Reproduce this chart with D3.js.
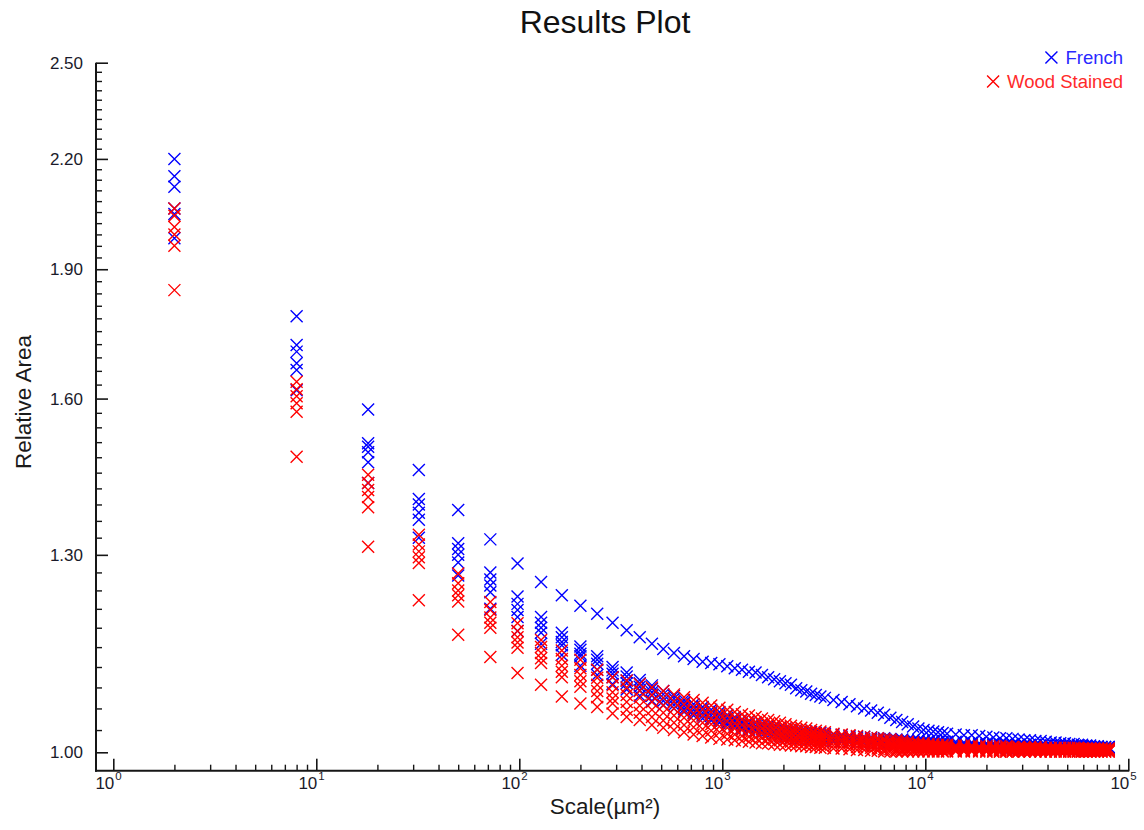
<!DOCTYPE html>
<html><head><meta charset="utf-8">
<script src="https://cdn.jsdelivr.net/npm/d3@7"></script>
<style>
body{margin:0;background:#fff}
svg{display:block}
text{font-family:"Liberation Sans",Arial,Helvetica,sans-serif}
</style>
</head><body>
<svg id="chart" width="1144" height="830"></svg>
<script>
// ---------- DATA ----------
const scales = [2,8,18,32,50,72,98,128,162,200,242,288,
338,392,450,512,578,648,722,800,882,968,1058,1152,1250,1352,1458,1568,1682,1800,1922,2048,2178,2312,2450,2592,2738,2888,3042,3200,
3528,3872,4232,4608,5000,5408,5832,6272,6728,7200,7688,8192,8712,9248,9800,10368,10952,11552,12168,12800,
14112,15488,16928,18432,20000,21632,23328,25088,26912,28800,30752,32768,34848,36992,39200,41472,43808,46208,48672,51200,53792,56448,59168,61952,64800,67712,70688,73728,76832,80000];

const frenchA = [2.200,1.785,1.577,1.455,1.380,1.327,1.285,1.254,1.232,1.215,1.202,1.188,
1.176,1.165,1.155,1.147,1.141,1.136,1.132,1.128,1.126,1.124,1.121,1.118,1.116,1.113,1.112,1.108,1.105,1.102,1.099,1.096,1.094,1.089,1.086,1.084,1.081,1.079,1.077,1.075,
1.072,1.069,1.066,1.063,1.060,1.057,1.054,1.051,1.047,1.044,1.041,1.038,1.035,1.032,1.030,1.029,1.028,1.027,1.026,1.025,
1.024,1.023,1.023,1.022,1.021,1.020,1.019,1.019,1.018,1.017,1.016,1.016,1.015,1.015,1.014,1.013,1.013,1.012,1.012,1.011,1.011,1.010,1.010,1.009,1.009,1.008,1.008,1.007,1.007,1.007];
const frenchB = [2.150,1.718,1.508,1.400,1.320,1.270,1.230,1.197,1.172,1.151,1.136,1.120,
1.112,1.101,1.093,1.085,1.078,1.072,1.066,1.062,1.058,1.055,1.051,1.048,1.045,1.042,1.040,1.038,1.036,1.035,1.033,1.032,1.031,1.030,1.029,1.028,1.027,1.026,1.026,1.025,
1.024,1.023,1.022,1.021,1.021,1.020,1.019,1.019,1.018,1.017,1.017,1.016,1.016,1.016,1.015,1.015,1.015,1.014,1.014,1.014,
1.014,1.013,1.013,1.012,1.012,1.012,1.011,1.011,1.011,1.010,1.010,1.010,1.010,1.009,1.009,1.009,1.009,1.009,1.008,1.008,1.008,1.008,1.008,1.008,1.007,1.007,1.007,1.007,1.007,1.007];
const frenchC = [2.120,1.703,1.501,1.390,1.310,1.258,1.218,1.188,1.165,1.146,1.131,1.115,
1.106,1.096,1.088,1.080,1.074,1.068,1.062,1.058,1.054,1.050,1.047,1.044,1.041,1.038,1.036,1.035,1.033,1.032,1.030,1.029,1.028,1.027,1.026,1.025,1.024,1.023,1.023,1.022,
1.021,1.020,1.020,1.019,1.018,1.018,1.017,1.017,1.016,1.015,1.015,1.014,1.014,1.014,1.013,1.013,1.013,1.013,1.012,1.012,
1.012,1.011,1.011,1.011,1.010,1.010,1.010,1.010,1.009,1.009,1.009,1.009,1.008,1.008,1.008,1.008,1.008,1.007,1.007,1.007,1.007,1.007,1.007,1.006,1.006,1.006,1.006,1.006,1.006,1.006];
const frenchD = [2.060,1.677,1.490,1.375,1.300,1.248,1.208,1.180,1.158,1.140,1.125,1.110,
1.100,1.091,1.083,1.075,1.069,1.063,1.058,1.054,1.050,1.046,1.043,1.041,1.038,1.035,1.033,1.031,1.030,1.029,1.027,1.026,1.025,1.024,1.023,1.022,1.022,1.021,1.020,1.020,
1.019,1.018,1.018,1.017,1.016,1.016,1.015,1.015,1.014,1.013,1.013,1.013,1.012,1.012,1.012,1.012,1.011,1.011,1.011,1.011,
1.010,1.010,1.010,1.010,1.009,1.009,1.009,1.008,1.008,1.008,1.008,1.008,1.007,1.007,1.007,1.007,1.007,1.006,1.006,1.006,1.006,1.006,1.006,1.005,1.005,1.005,1.005,1.005,1.005,1.005];
const frenchE = [2.045,1.662,1.470,1.362,1.287,1.237,1.197,1.172,1.153,1.136,1.116,1.105,
1.096,1.086,1.078,1.071,1.065,1.059,1.054,1.050,1.046,1.043,1.040,1.037,1.035,1.032,1.030,1.028,1.027,1.026,1.024,1.023,1.022,1.021,1.021,1.020,1.019,1.019,1.018,1.018,
1.017,1.016,1.016,1.015,1.015,1.014,1.014,1.013,1.013,1.012,1.012,1.012,1.011,1.011,1.011,1.010,1.010,1.010,1.010,1.009,
1.009,1.009,1.009,1.008,1.008,1.008,1.008,1.007,1.007,1.007,1.007,1.007,1.006,1.006,1.006,1.006,1.006,1.005,1.005,1.005,1.005,1.005,1.005,1.004,1.004,1.004,1.004,1.004,1.004,1.004];
const frenchF = [1.980,1.618,1.430,1.330,1.265,1.210,1.175,1.155,1.138,1.122,1.108,1.095,
1.087,1.078,1.071,1.065,1.060,1.055,1.050,1.046,1.043,1.040,1.037,1.035,1.032,1.030,1.028,1.026,1.025,1.024,1.022,1.021,1.020,1.019,1.019,1.018,1.017,1.017,1.016,1.016,
1.015,1.014,1.014,1.013,1.013,1.012,1.012,1.011,1.011,1.010,1.010,1.010,1.009,1.009,1.009,1.009,1.009,1.008,1.008,1.008,
1.008,1.008,1.007,1.007,1.007,1.007,1.007,1.006,1.006,1.006,1.006,1.006,1.005,1.005,1.005,1.005,1.005,1.005,1.004,1.004,1.004,1.004,1.004,1.004,1.004,1.004,1.003,1.003,1.003,1.003];

const woodA = [2.060,1.636,1.446,1.335,1.268,1.221,1.187,1.161,1.145,1.131,1.116,1.105,
1.100,1.095,1.090,1.085,1.080,1.076,1.072,1.068,1.064,1.061,1.058,1.055,1.052,1.050,1.048,1.046,1.044,1.042,1.040,1.038,1.036,1.035,1.033,1.032,1.030,1.029,1.028,1.027,
1.025,1.024,1.023,1.022,1.021,1.020,1.019,1.018,1.017,1.016,1.015,1.014,1.013,1.012,1.012,1.011,1.011,1.010,1.010,1.010,
1.009,1.009,1.009,1.008,1.008,1.008,1.008,1.008,1.007,1.007,1.007,1.007,1.007,1.007,1.006,1.006,1.006,1.006,1.006,1.006,1.006,1.006,1.005,1.005,1.005,1.005,1.005,1.005,1.005,1.005];
const woodB = [2.040,1.620,1.430,1.318,1.252,1.208,1.175,1.150,1.132,1.118,1.104,1.093,
1.090,1.085,1.079,1.075,1.070,1.066,1.062,1.059,1.055,1.052,1.050,1.047,1.045,1.043,1.041,1.039,1.038,1.036,1.034,1.032,1.031,1.030,1.028,1.027,1.025,1.025,1.024,1.023,
1.021,1.020,1.019,1.018,1.017,1.016,1.016,1.015,1.014,1.013,1.012,1.011,1.010,1.010,1.010,1.009,1.009,1.008,1.008,1.008,
1.007,1.007,1.007,1.007,1.006,1.006,1.006,1.006,1.006,1.006,1.005,1.005,1.005,1.005,1.005,1.005,1.005,1.005,1.004,1.004,1.004,1.004,1.004,1.004,1.004,1.004,1.004,1.004,1.004,1.004];
const woodC = [2.010,1.605,1.417,1.306,1.240,1.196,1.165,1.141,1.122,1.108,1.094,1.083,
1.079,1.075,1.069,1.064,1.060,1.056,1.053,1.050,1.046,1.044,1.042,1.039,1.037,1.036,1.034,1.032,1.031,1.030,1.028,1.027,1.025,1.025,1.023,1.022,1.021,1.020,1.019,1.019,
1.017,1.016,1.015,1.014,1.014,1.013,1.012,1.011,1.011,1.010,1.009,1.008,1.008,1.007,1.007,1.007,1.007,1.006,1.006,1.006,
1.005,1.005,1.005,1.005,1.005,1.005,1.004,1.004,1.004,1.004,1.004,1.004,1.004,1.004,1.003,1.003,1.003,1.003,1.003,1.003,1.003,1.003,1.003,1.003,1.003,1.003,1.003,1.003,1.003,1.003];
const woodD = [1.990,1.590,1.404,1.296,1.232,1.188,1.157,1.133,1.113,1.099,1.085,1.074,
1.069,1.064,1.058,1.054,1.050,1.047,1.043,1.040,1.038,1.035,1.033,1.032,1.030,1.028,1.027,1.026,1.025,1.023,1.022,1.021,1.020,1.019,1.018,1.018,1.016,1.016,1.015,1.014,
1.013,1.013,1.012,1.011,1.010,1.009,1.009,1.008,1.007,1.006,1.006,1.006,1.006,1.005,1.005,1.005,1.005,1.004,1.004,1.004,
1.003,1.003,1.003,1.003,1.003,1.003,1.003,1.003,1.003,1.003,1.002,1.002,1.002,1.002,1.002,1.002,1.002,1.002,1.002,1.002,1.002,1.002,1.002,1.002,1.002,1.002,1.002,1.002,1.002,1.002];
const woodE = [1.960,1.572,1.385,1.286,1.222,1.180,1.149,1.126,1.105,1.091,1.076,1.067,
1.058,1.054,1.048,1.043,1.040,1.037,1.034,1.031,1.029,1.027,1.025,1.024,1.022,1.021,1.020,1.019,1.018,1.017,1.016,1.016,1.014,1.014,1.013,1.013,1.012,1.011,1.010,1.010,
1.009,1.009,1.008,1.007,1.007,1.006,1.005,1.004,1.004,1.003,1.003,1.003,1.003,1.002,1.002,1.002,1.002,1.002,1.002,1.002,
1.002,1.002,1.002,1.002,1.001,1.001,1.001,1.001,1.001,1.001,1.001,1.001,1.001,1.001,1.001,1.001,1.001,1.001,1.001,1.001,1.001,1.001,1.001,1.001,1.001,1.001,1.001,1.001,1.001,1.001];
const woodF = [1.848,1.481,1.314,1.224,1.169,1.135,1.111,1.094,1.077,1.067,1.062,1.053,
1.048,1.044,1.037,1.033,1.030,1.027,1.024,1.022,1.020,1.018,1.017,1.016,1.015,1.014,1.013,1.012,1.012,1.011,1.010,1.010,1.009,1.009,1.008,1.008,1.007,1.007,1.006,1.006,
1.005,1.005,1.004,1.003,1.003,1.002,1.002,1.001,1.001,1.001,1.001,1.001,1.001,1.001,1.001,1.001,1.001,1.001,1.001,1.001,
1.001,1.001,1.001,1.001,1.001,1.001,1.001,1.001,1.001,1.001,1.001,1.001,1.001,1.001,1.001,1.001,1.001,1.001,1.001,1.001,1.001,1.001,1.001,1.001,1.001,1.001,1.001,1.001,1.001,1.001];

const seriesNames = ["French", "Wood Stained"];
const seriesColors = ["#0000ff", "#ff0000"];
const frenchSamples = [frenchA, frenchB, frenchC, frenchD, frenchE, frenchF];
const woodSamples = [woodA, woodB, woodC, woodD, woodE, woodF];
const yTickValues = [1.00, 1.30, 1.60, 1.90, 2.20, 2.50];
const xTickValues = [1, 10, 100, 1000, 10000, 100000];
const xTickExponents = ["0", "1", "2", "3", "4", "5"];
const titleText = "Results Plot";
const xTitle = "Scale(\u00b5m\u00b2)";
const yTitle = "Relative Area";

// ---------- CHART ----------
const svg = d3.select("#chart");
const W = 1144, H = 830;
svg.append("rect").attr("width", W).attr("height", H).attr("fill", "#fff");

const axisLeftX = 96, axisBottomY = 770.7, axisTopY = 62.7, axisRightX = 1128.3;
const x = d3.scaleLog().domain([1, 1e5]).range([113.3, 1128.3]);
const y = d3.scaleLog().domain([1, 2.5]).range([752.3, 62.7]);
const axisColor = "#161616";

// points
const plot = svg.append("g");
const R = 6;
const cross = `M${-R},${-R}L${R},${R}M${-R},${R}L${R},${-R}`;
function drawSeries(samples, color) {
  const pts = [];
  samples.forEach(arr => {
    const n = Math.min(arr.length, scales.length);
    for (let i = 0; i < n; i++) pts.push([scales[i], arr[i]]);
  });
  plot.append("g").selectAll("path").data(pts).join("path")
    .attr("d", cross)
    .attr("transform", d => `translate(${x(d[0])},${y(d[1])})`)
    .attr("fill", "none").attr("stroke", color).attr("stroke-width", 1.4);
}
drawSeries(frenchSamples, seriesColors[0]);
drawSeries(woodSamples, seriesColors[1]);

// x axis: major ticks
const gx = svg.append("g").attr("transform", `translate(0,${axisBottomY})`)
  .call(d3.axisBottom(x).tickValues(xTickValues).tickSizeInner(-12).tickSizeOuter(0).tickFormat(""));
gx.select(".domain").remove();
gx.selectAll(".tick line").attr("stroke", axisColor).attr("stroke-width", 1.6);
gx.selectAll(".tick").each(function(d, i) {
  const g = d3.select(this);
  g.select("text").remove();
  g.append("text").attr("x", 0.5).attr("y", 18.3).attr("text-anchor", "end")
    .attr("font-size", 17).attr("fill", "#1a1a2a").text("10");
  g.append("text").attr("x", 1.5).attr("y", 9.6).attr("text-anchor", "start")
    .attr("font-size", 11.5).attr("fill", "#1a1a2a").text(xTickExponents[i]);
});
// x axis: minor ticks
const xMinor = [];
for (let e = 0; e < 5; e++) for (let m = 2; m <= 9; m++) xMinor.push(m * Math.pow(10, e));
const gxm = svg.append("g").attr("transform", `translate(0,${axisBottomY})`)
  .call(d3.axisBottom(x).tickValues(xMinor).tickSizeInner(-6).tickSizeOuter(0).tickFormat(""));
gxm.select(".domain").remove();
gxm.selectAll(".tick line").attr("stroke", axisColor).attr("stroke-width", 1.4);

// y axis: major ticks
const gy = svg.append("g").attr("transform", `translate(${axisLeftX},0)`)
  .call(d3.axisLeft(y).tickValues(yTickValues).tickSizeInner(-12).tickSizeOuter(0).tickPadding(13).tickFormat(d3.format(".2f")));
gy.select(".domain").remove();
gy.selectAll(".tick line").attr("stroke", axisColor).attr("stroke-width", 1.6);
gy.selectAll(".tick text").attr("font-size", 17).attr("fill", "#1a1a2a")
  .attr("font-family", "'Liberation Sans', Arial, sans-serif");
// y axis: minor ticks every 0.03
const yMinor = d3.range(0, 51).map(i => +(1 + i * 0.03).toFixed(2)).filter(v => Math.round((v - 1) * 100) % 30 !== 0);
const gym = svg.append("g").attr("transform", `translate(${axisLeftX},0)`)
  .call(d3.axisLeft(y).tickValues(yMinor).tickSizeInner(-6).tickSizeOuter(0).tickFormat(""));
gym.select(".domain").remove();
gym.selectAll(".tick line").attr("stroke", axisColor).attr("stroke-width", 1.4);

// axis lines
svg.append("line").attr("x1", axisLeftX).attr("x2", axisLeftX).attr("y1", axisTopY).attr("y2", axisBottomY + 1)
  .attr("stroke", axisColor).attr("stroke-width", 2);
svg.append("line").attr("x1", axisLeftX - 1).attr("x2", axisRightX + 1).attr("y1", axisBottomY).attr("y2", axisBottomY)
  .attr("stroke", axisColor).attr("stroke-width", 2);

// titles
svg.append("text").attr("x", 605).attr("y", 33).attr("text-anchor", "middle")
  .attr("font-size", 32).attr("fill", "#111").text(titleText);
svg.append("text").attr("x", 605).attr("y", 814).attr("text-anchor", "middle")
  .attr("font-size", 22.5).attr("fill", "#1a1a1a").text(xTitle);
svg.append("text").attr("transform", "translate(31,402) rotate(-90)").attr("text-anchor", "middle")
  .attr("font-size", 22.5).attr("fill", "#1a1a1a").text(yTitle);

// legend
const legend = svg.append("g");
const legendRows = [
  {name: seriesNames[0], color: seriesColors[0], y: 57.5, textColor: "#2a2aff"},
  {name: seriesNames[1], color: seriesColors[1], y: 81.5, textColor: "#ff2a2a"}
];
legendRows.forEach(r => {
  const t = legend.append("text").attr("x", 1123).attr("y", r.y + 6).attr("text-anchor", "end")
    .attr("font-size", 18.5).attr("fill", r.textColor).text(r.name);
  const bb = t.node().getBBox();
  legend.append("path").attr("d", cross)
    .attr("transform", `translate(${bb.x - 14},${r.y})`)
    .attr("fill", "none").attr("stroke", r.color).attr("stroke-width", 1.4);
});
</script>
</body></html>
